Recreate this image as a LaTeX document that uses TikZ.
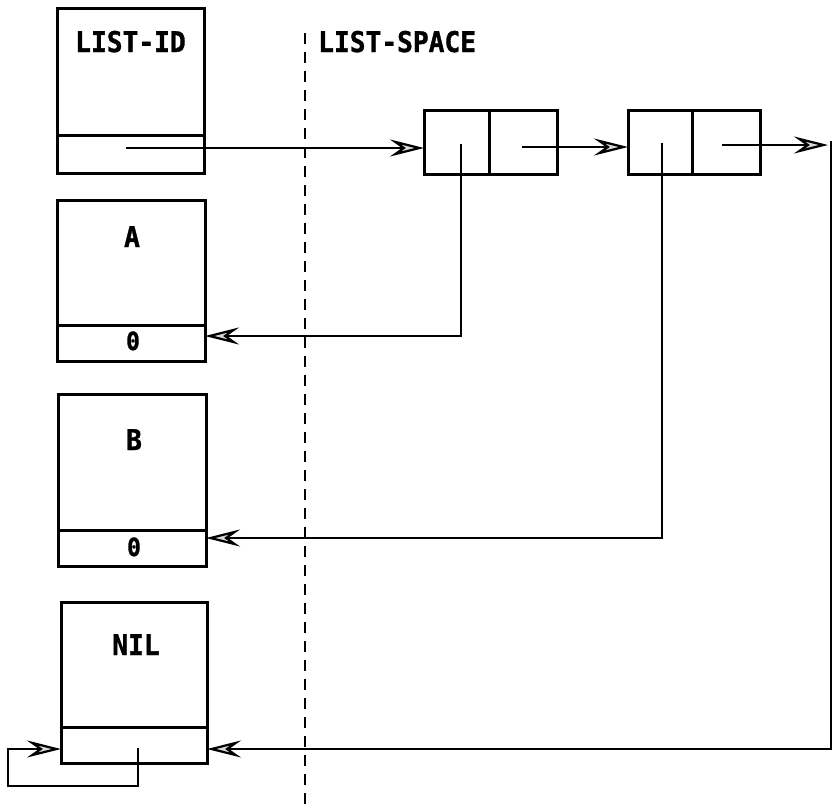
\documentclass[tikz,border=0pt]{standalone}
\usepackage{fontspec}
\newfontfamily\monob{DejaVu Sans Mono}[FakeStretch=0.92,BoldFeatures={FakeBold=1.2}]
\usetikzlibrary{arrows.meta,calc}
\begin{document}
\begin{tikzpicture}[x=1pt,y=-1pt,
  box/.style={draw,line width=3pt,inner sep=0pt,outer sep=0pt},
  lbl/.style={font=\monob\bfseries\fontsize{28.5}{28.5}\selectfont,inner sep=0pt,anchor=base},
  zero/.style={font=\monob\bfseries\fontsize{25}{25}\selectfont,inner sep=0pt,anchor=base},
  ptr/.style={line width=2.6pt,-{Stealth[length=34pt,width=17pt,inset=12pt,fill=gray!30,line width=2.2pt]}},
  sep/.style={line width=2.4pt,dash pattern=on 11pt off 8pt}]
\useasboundingbox (0,0) rectangle (833,806);
% left column boxes
\node[box,minimum width=147pt,minimum height=127pt] (idtop) at (130.5,71.5) {};
\node[box,minimum width=147pt,minimum height=38pt] (idval) at (130.5,154) {};
\node[box,minimum width=148pt,minimum height=125pt] (atop) at (131,262.5) {};
\node[box,minimum width=148pt,minimum height=36pt] (aval) at (131,343) {};
\node[box,minimum width=148pt,minimum height=136pt] (btop) at (132,462) {};
\node[box,minimum width=148pt,minimum height=36pt] (bval) at (132,548) {};
\node[box,minimum width=146pt,minimum height=125pt] (niltop) at (134,664.5) {};
\node[box,minimum width=146pt,minimum height=36pt] (nilval) at (134,745) {};
% labels
\node[lbl] (idlbl) at (130.5,52) {LIST-ID};
\node[lbl] (albl) at (132,247) {A};
\node[lbl] (blbl) at (134,450) {B};
\node[lbl] (nillbl) at (136,655) {NIL};
\node[zero] (azero) at (133,350) {0};
\node[zero] (bzero) at (134,556) {0};
\node[lbl,anchor=base west] (space) at (318,52) {LIST-SPACE};
% list cells
\node[box,minimum width=65pt,minimum height=64pt] (c1car) at (456.5,142) {};
\node[box,minimum width=68pt,minimum height=64pt] (c1cdr) at (523,142) {};
\node[box,minimum width=64pt,minimum height=64pt] (c2car) at (660,142) {};
\node[box,minimum width=68pt,minimum height=64pt] (c2cdr) at (726,142) {};
% separator
\coordinate (dtop) at (305,33);
\coordinate (dbot) at (305,806);
\draw[sep] (dtop) -- (dbot);
% pointer origins
\coordinate (p0) at (126,148);
\coordinate (p1) at (461,144);
\coordinate (p2) at (522,147);
\coordinate (p3) at (662,143);
\coordinate (p4) at (722,145);
\coordinate (p5) at (138,748);
\coordinate (rend) at (828,145);
\coordinate (rtop) at (831,141);
\coordinate (loopl) at (8,786);
% connectors
\draw[ptr] (p0) -- (p0 -| c1car.west);
\draw[ptr] (p1) |- ([yshift=7pt]aval.east);
\draw[ptr] (p2) -- (p2 -| c2car.west);
\draw[ptr] (p3) |- ([yshift=10pt]bval.east);
\draw[ptr] (p4) -- (rend);
\draw[ptr] (rtop) |- ([yshift=-4pt]nilval.east);
\draw[ptr] (p5) |- (loopl) |- ([yshift=-4pt]nilval.west);
\end{tikzpicture}
\end{document}
